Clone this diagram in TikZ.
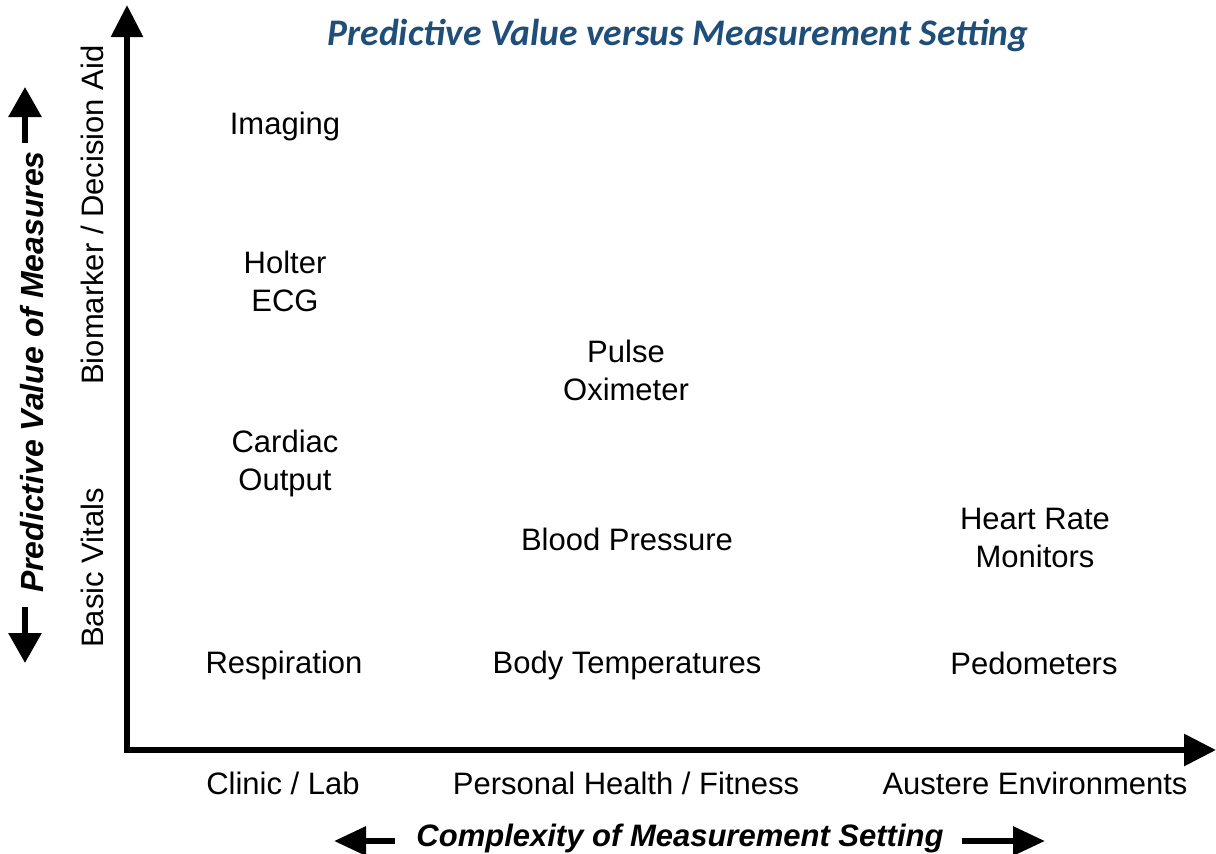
\documentclass[tikz,border=0pt]{standalone}
\usepackage{fontspec}
\setmainfont{Liberation Sans}
\newfontfamily\titlefont{Carlito}
\usetikzlibrary{arrows.meta}
\definecolor{titleblue}{HTML}{1F4E79}
\begin{document}
\begin{tikzpicture}[x=1pt,y=-1pt,
  lbl/.style={align=center,inner sep=0pt,font=\fontsize{31}{38}\selectfont},
  axlbl/.style={inner sep=0pt,font=\fontsize{31}{38}\selectfont\bfseries\itshape},
  vlbl/.style={inner sep=0pt,rotate=90,anchor=base,font=\fontsize{31}{38}\selectfont},
  axis/.style={line width=6pt,-{Triangle[length=32pt,width=31pt]}},
  small/.style={line width=6pt,-{Triangle[length=30pt,width=32pt]}},
  smallh/.style={line width=6pt,-{Triangle[length=32pt,width=28pt]}}]
\useasboundingbox (0,0) rectangle (1216,854);
\fill[white] (0,0) rectangle (1216,854);
% axes
\coordinate (ostart) at (124,750);
\coordinate (vstart) at (127,753);
\coordinate (ytip) at (127,5);
\coordinate (xtip) at (1216,750);
\draw[axis] (vstart) -- (ytip);
\draw[axis] (ostart) -- (xtip);
% title
\node[inner sep=0pt,text=titleblue,font=\titlefont\fontsize{37.5}{40}\selectfont\bfseries\itshape] (title) at (678,35) {Predictive Value versus Measurement Setting};
% items
\node[lbl] (imaging) at (285,126) {Imaging};
\node[lbl] (holter) at (285,281) {Holter\\ECG};
\node[lbl] (pulse) at (626,370) {Pulse\\Oximeter};
\node[lbl] (cardiac) at (285,463) {Cardiac\\Output};
\node[lbl] (bp) at (627,539) {Blood Pressure};
\node[lbl] (hr) at (1035,538) {Heart Rate\\Monitors};
\node[lbl] (resp) at (284,665) {Respiration};
\node[lbl] (temp) at (627,665) {Body Temperatures};
\node[lbl] (pedo) at (1034,663) {Pedometers};
% x categories
\node[lbl] (clinic) at (283,783) {Clinic / Lab};
\node[lbl] (personal) at (626,783) {Personal Health / Fitness};
\node[lbl] (austere) at (1035,783) {Austere Environments};
% y categories
\node[vlbl] (bio) at (103,215) {Biomarker / Decision Aid};
\node[vlbl] (basic) at (103,568) {Basic Vitals};
% axis titles
\node[axlbl] (xtitle) at (680,838) {Complexity of Measurement Setting};
\node[axlbl,font=\fontsize{32}{38}\selectfont\bfseries\itshape,rotate=90,anchor=base] (ytitle) at (43,372) {Predictive Value of Measures};
% small arrows
\coordinate (ua) at (25,143); \coordinate (ub) at (25,87);
\coordinate (da) at (25,607); \coordinate (db) at (25,663);
\draw[small] (ua) -- (ub);
\draw[small] (da) -- (db);
\coordinate (la) at (395,841); \coordinate (lb) at (334,841);
\coordinate (ra) at (962,841); \coordinate (rb) at (1045,841);
\draw[smallh] (la) -- (lb);
\draw[smallh] (ra) -- (rb);
\end{tikzpicture}
\end{document}
